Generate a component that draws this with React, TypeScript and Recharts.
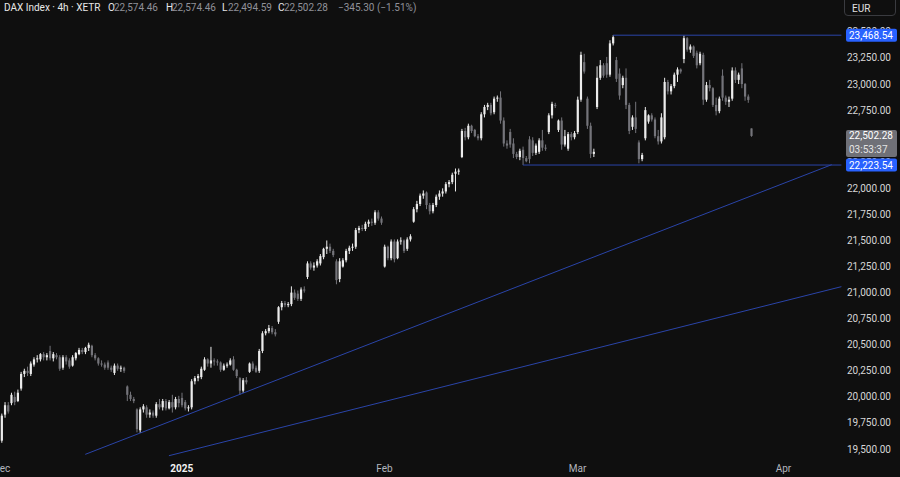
import React from 'react';
import { ComposedChart, Bar, XAxis, YAxis, ReferenceLine } from 'recharts';

type Ohlc = [number, number, number, number];

// 4h candles, [open, high, low, close]
const dec: Ohlc[] = [
  [19580, 19840, 19560, 19820], [19830, 19950, 19800, 19920], [19920, 19950, 19840, 19860], [19940, 20040, 19920, 20020],
  [20000, 20050, 19920, 19950], [19960, 20070, 19950, 20040], [20080, 20240, 20060, 20220], [20220, 20270, 20190, 20250],
  [20250, 20290, 20200, 20230], [20220, 20340, 20200, 20320], [20310, 20380, 20290, 20360], [20360, 20400, 20330, 20370],
  [20360, 20420, 20340, 20410], [20410, 20430, 20350, 20380], [20380, 20420, 20350, 20400], [20440, 20490, 20350, 20370],
  [20370, 20430, 20340, 20410], [20400, 20420, 20360, 20380], [20380, 20400, 20250, 20270], [20280, 20400, 20260, 20380],
  [20380, 20400, 20310, 20340], [20350, 20370, 20270, 20290], [20300, 20400, 20290, 20380], [20370, 20430, 20350, 20420],
  [20410, 20470, 20400, 20450], [20450, 20470, 20410, 20430], [20430, 20480, 20410, 20470], [20470, 20520, 20440, 20500],
  [20490, 20500, 20380, 20400], [20400, 20420, 20350, 20370], [20370, 20380, 20300, 20320], [20320, 20350, 20290, 20310],
  [20310, 20330, 20260, 20280], [20330, 20350, 20260, 20280], [20280, 20300, 20240, 20260], [20230, 20320, 20210, 20300],
  [20300, 20320, 20250, 20270], [20270, 20300, 20240, 20280], [20280, 20290, 20230, 20250], [20100, 20110, 19960, 20020],
  [20020, 20050, 19960, 19980], [19980, 20000, 19940, 19960], [19880, 19890, 19660, 19690], [19680, 19900, 19655, 19880],
  [19880, 19930, 19850, 19910], [19900, 19920, 19800, 19830], [19830, 19880, 19800, 19850], [19850, 19870, 19800, 19820],
  [19820, 19950, 19800, 19930], [19930, 19980, 19880, 19900], [19900, 19980, 19870, 19960], [19960, 19980, 19870, 19890],
  [19890, 19970, 19880, 19950], [19950, 20020, 19850, 19900], [19900, 20000, 19880, 19980], [19980, 20010, 19900, 19940],
];

const jan: Ohlc[] = [
  [19990, 20040, 19900, 19920], [19950, 19970, 19870, 19890], [19890, 19920, 19860, 19900], [19900, 20170, 19880, 20150],
  [20150, 20200, 20120, 20180], [20180, 20220, 20150, 20200], [20190, 20290, 20170, 20270], [20260, 20380, 20250, 20360],
  [20360, 20370, 20290, 20320], [20320, 20480, 20280, 20350], [20350, 20370, 20300, 20340], [20340, 20360, 20300, 20330],
  [20330, 20340, 20240, 20260], [20260, 20320, 20250, 20300], [20300, 20330, 20280, 20310], [20310, 20370, 20300, 20350],
  [20360, 20390, 20250, 20260], [20260, 20270, 20180, 20200], [20180, 20190, 20020, 20060], [20060, 20180, 20040, 20160],
  [20160, 20190, 20120, 20140], [20240, 20330, 20230, 20320], [20320, 20340, 20250, 20270], [20280, 20300, 20230, 20240],
  [20250, 20460, 20230, 20440], [20440, 20630, 20420, 20610], [20610, 20650, 20590, 20630], [20630, 20690, 20610, 20660],
  [20660, 20680, 20600, 20620], [20620, 20650, 20580, 20600], [20720, 20870, 20700, 20860], [20860, 20920, 20830, 20900],
  [20900, 20920, 20860, 20880], [20880, 20910, 20860, 20890], [20890, 21060, 20870, 21000], [21000, 21030, 20930, 20950],
  [20990, 21020, 20920, 20940], [20940, 21050, 20920, 21030], [21030, 21060, 21000, 21020], [21150, 21300, 21130, 21280],
  [21280, 21300, 21220, 21240], [21240, 21290, 21210, 21260], [21260, 21320, 21240, 21300], [21280, 21370, 21260, 21350],
  [21340, 21430, 21320, 21420], [21420, 21500, 21370, 21440], [21440, 21470, 21380, 21400], [21400, 21420, 21340, 21360],
  [21300, 21320, 21080, 21120], [21130, 21330, 21100, 21300], [21250, 21330, 21240, 21310], [21310, 21420, 21290, 21400],
  [21400, 21450, 21370, 21430], [21430, 21470, 21400, 21440], [21440, 21620, 21420, 21600], [21600, 21640, 21570, 21620],
  [21620, 21650, 21590, 21610], [21610, 21680, 21590, 21660], [21660, 21700, 21630, 21680], [21680, 21710, 21640, 21670],
  [21670, 21790, 21650, 21770], [21770, 21790, 21690, 21710], [21710, 21730, 21650, 21670],
];

const feb: Ohlc[] = [
  [21250, 21460, 21240, 21440], [21440, 21450, 21310, 21330], [21330, 21510, 21310, 21490], [21490, 21510, 21290, 21320],
  [21330, 21510, 21320, 21490], [21490, 21530, 21460, 21500], [21500, 21510, 21380, 21400], [21420, 21530, 21400, 21510],
  [21510, 21560, 21490, 21540], [21680, 21820, 21670, 21800], [21800, 21880, 21770, 21850], [21850, 21950, 21830, 21930],
  [21930, 21980, 21900, 21950], [21960, 21970, 21800, 21840], [21840, 21860, 21750, 21780], [21780, 21860, 21760, 21840],
  [21840, 21940, 21820, 21920], [21920, 21980, 21890, 21950], [21950, 22000, 21920, 21970], [21970, 22060, 21950, 22040],
  [22040, 22080, 22010, 22060], [22060, 22150, 22040, 22130], [22140, 22190, 21970, 22160], [22160, 22190, 22130, 22170],
  [22300, 22570, 22290, 22550], [22550, 22580, 22460, 22490], [22490, 22620, 22470, 22600], [22600, 22610, 22530, 22550],
  [22560, 22570, 22490, 22500], [22500, 22520, 22460, 22480], [22480, 22730, 22460, 22710], [22710, 22800, 22680, 22780],
  [22780, 22820, 22750, 22800], [22800, 22820, 22700, 22720], [22730, 22880, 22710, 22860], [22860, 22890, 22830, 22870],
  [22870, 22930, 22620, 22650], [22650, 22680, 22400, 22430], [22430, 22460, 22380, 22410], [22540, 22570, 22390, 22420],
  [22430, 22480, 22290, 22330], [22330, 22350, 22280, 22300], [22300, 22380, 22270, 22360], [22370, 22400, 22223.54, 22290],
  [22290, 22310, 22250, 22260], [22470, 22500, 22240, 22280], [22460, 22490, 22310, 22340], [22340, 22430, 22320, 22410],
  [22350, 22480, 22330, 22460], [22460, 22560, 22360, 22390], [22390, 22420, 22360, 22380], [22540, 22720, 22520, 22700],
  [22700, 22830, 22670, 22810], [22800, 22820, 22770, 22790], [22560, 22660, 22540, 22650], [22650, 22680, 22370, 22420],
  [22420, 22560, 22400, 22500], [22380, 22540, 22360, 22520], [22520, 22540, 22460, 22490], [22490, 22550, 22470, 22530],
];

const mar: Ohlc[] = [
  [22540, 22880, 22520, 22850], [22850, 23310, 22830, 23280], [23210, 23290, 23100, 23120], [22860, 22880, 22570, 22600],
  [22600, 22630, 22290, 22330], [22330, 22380, 22300, 22350], [22780, 23170, 22760, 23060], [23060, 23230, 23040, 23180],
  [23180, 23200, 23060, 23080], [23200, 23260, 23060, 23090], [23090, 23420, 23070, 23390], [23390, 23468.54, 23370, 23450],
  [23230, 23260, 23020, 23050], [23100, 23150, 22850, 22890], [22990, 23080, 22960, 23060], [23060, 23150, 22760, 22800],
  [22800, 22820, 22520, 22550], [22590, 22700, 22560, 22680], [22680, 22830, 22530, 22570], [22440, 22460, 22240, 22280],
  [22280, 22340, 22260, 22320], [22480, 22780, 22460, 22750], [22640, 22710, 22620, 22700], [22700, 22720, 22640, 22660],
  [22660, 22680, 22480, 22500], [22500, 22560, 22420, 22450], [22450, 22720, 22430, 22680], [22490, 23060, 22470, 23020],
  [23020, 23040, 22900, 22930], [22930, 23000, 22900, 22980], [22980, 23110, 22960, 23090], [23090, 23160, 23020, 23140],
  [23140, 23150, 23100, 23120], [23240, 23465, 23200, 23440], [23440, 23450, 23310, 23330], [23330, 23380, 23300, 23360],
  [23360, 23370, 23250, 23270], [23300, 23320, 23150, 23180], [23200, 23310, 23180, 23290], [23280, 23300, 22800, 22850],
  [22850, 23020, 22830, 22990], [22990, 23040, 22930, 22960], [22960, 22970, 22780, 22800], [22800, 22870, 22700, 22740],
  [22740, 22880, 22720, 22860], [23080, 23140, 22840, 22870], [22870, 22890, 22800, 22830], [22830, 22880, 22780, 22850],
  [22860, 23160, 22840, 23130], [23130, 23160, 23010, 23040], [23040, 23110, 23000, 23090], [23150, 23200, 22960, 23000],
  [23000, 23010, 22840, 22880], [22880, 22900, 22820, 22847.58], [22574.46, 22574.46, 22494.59, 22502.28],
];

const futureSlots = 28;
const monthTicks = [0, 56, 119, 179, 243];
const monthLabels = ['Dec', '2025', 'Feb', 'Mar', 'Apr'];
const priceTicks = [19500, 19750, 20000, 20250, 20500, 20750, 21000, 21250, 21500, 21750, 22000, 22250, 22500, 22750, 23000, 23250, 23500];
const rangeHigh = 23468.54;
const rangeLow = 22223.54;
const lastPrice = 22502.28;
const countdown = '03:53:37';
// trend lines: [candle index, price]
const upperTrend = [{ x: 26, y: 19449 }, { x: 258, y: 22227 }];
const lowerTrend = [{ x: 52, y: 19436 }, { x: 261, y: 21057 }];
const highStart = 190;
const lowStart = 162;
const lineEnd = 261;

const headerTitle = 'DAX Index · 4h · XETR';
const ohlcLetters = ['O', 'H', 'L', 'C'];
const ohlcValues = ['22,574.46', '22,574.46', '22,494.59', '22,502.28'];
const changeText = '−345.30 (−1.51%)';

const BG = '#0f0f0f';
const UP = '#ececec';
const DOWN = '#74747a';
const LINE = '#2a44a8';
const TAG_BLUE = '#2962ff';
const TAG_GRAY = '#6f7077';
const FONT = 'Roboto, "Liberation Sans", sans-serif';

const candles = [...dec, ...jan, ...feb, ...mar].map(([o, h, l, c], i) => ({ i, o, h, l, c }));
const data: any[] = [...candles];
for (let k = 0; k < futureSlots; k++) data.push({ i: candles.length + k });

// price-axis tags go last so they paint over the regular labels
const tagPrices = [lastPrice, rangeHigh, rangeLow];
const axisTicks = [...priceTicks, ...tagPrices];

const fmt = (v: number) => v.toLocaleString('en-US', { minimumFractionDigits: 2, maximumFractionDigits: 2 });

function Candle(props: any) {
  const { x, y, width, height, payload } = props;
  if (!payload || payload.o == null || !isFinite(y) || !isFinite(height)) return null;
  const top = Math.min(y, y + height);
  const bottom = Math.max(y, y + height);
  const span = payload.h - payload.l;
  const ppu = span > 0 ? (bottom - top) / span : 0;
  const py = (v: number) => top + (payload.h - v) * ppu;
  const color = payload.c >= payload.o ? UP : DOWN;
  const cx = x + width / 2;
  const bTop = py(Math.max(payload.o, payload.c));
  const bBot = py(Math.min(payload.o, payload.c));
  return (
    <g>
      <line x1={cx} x2={cx} y1={top} y2={bottom} stroke={color} strokeWidth={1} />
      <rect x={cx - 1.1} y={bTop} width={2.2} height={Math.max(1, bBot - bTop)} fill={color} />
    </g>
  );
}

function MonthTick({ x, y, payload }: any) {
  const label = monthLabels[monthTicks.indexOf(payload.value)];
  const isYear = label === '2025';
  return (
    <text x={x} y={y + 13.5} textAnchor="middle" fontSize={10} fontFamily={FONT}
      fill={isYear ? '#f2f2f2' : '#b2b5be'} fontWeight={isYear ? 700 : 400}>
      {label}
    </text>
  );
}

function PriceTick({ x, y, payload }: any) {
  const v = payload.value;
  const tx = x - 1;
  if (v === lastPrice) {
    return (
      <g>
        <rect x={tx} y={y - 6} width={51} height={27} rx={2} fill={TAG_GRAY} />
        <text x={tx + 3} y={y + 3.5} fontSize={10} fontFamily={FONT} fill="#ffffff">{fmt(v)}</text>
        <text x={tx + 3} y={y + 17} fontSize={10} fontFamily={FONT} fill="#e4e4e4">{countdown}</text>
      </g>
    );
  }
  if (v === rangeHigh || v === rangeLow) {
    return (
      <g>
        <rect x={tx} y={y - 6.5} width={51} height={13} rx={2} fill={TAG_BLUE} />
        <text x={tx + 3} y={y + 3.5} fontSize={10} fontFamily={FONT} fill="#ffffff">{fmt(v)}</text>
      </g>
    );
  }
  return (
    <text x={x} y={y + 3.5} textAnchor="start" fontSize={10} fontFamily={FONT} fill="#d6d6d6">
      {fmt(v)}
    </text>
  );
}

export default function App() {
  const valueLeft = [114, 172, 228, 284];
  const letterLeft = [108, 166, 222, 278];
  return (
    <div style={{ position: 'absolute', left: 0, top: 0, width: 900, height: 477, background: BG, overflow: 'hidden' }}>
      <ComposedChart width={900} height={477} data={data} margin={{ top: 0, right: 0, left: 0, bottom: 0 }}>
        <XAxis dataKey="i" type="category" ticks={monthTicks} interval={0} tick={<MonthTick />}
          axisLine={false} tickLine={false} tickSize={0} tickMargin={0} height={19} />
        <YAxis orientation="right" width={57} domain={[19414, 23806]} allowDataOverflow ticks={axisTicks}
          interval={0} tick={<PriceTick />} axisLine={false} tickLine={false} tickSize={0} tickMargin={4} />
        <Bar dataKey={(d: any) => (d.o == null ? null : [d.l, d.h])} shape={<Candle />} isAnimationActive={false} />
        <ReferenceLine segment={upperTrend} stroke={LINE} strokeWidth={1} />
        <ReferenceLine segment={lowerTrend} stroke={LINE} strokeWidth={1} />
        <ReferenceLine segment={[{ x: highStart, y: rangeHigh }, { x: lineEnd, y: rangeHigh }]} stroke={LINE} strokeWidth={1} />
        <ReferenceLine segment={[{ x: lowStart, y: rangeLow }, { x: lineEnd, y: rangeLow }]} stroke={LINE} strokeWidth={1} />
      </ComposedChart>
      <div style={{ position: 'absolute', left: 0, top: 2, width: 900, height: 14, fontFamily: FONT, fontSize: 10, lineHeight: '12px' }}>
        <span style={{ position: 'absolute', left: 4, color: '#e8e8e8' }}>{headerTitle}</span>
        {ohlcLetters.map((l, k) => (
          <React.Fragment key={l}>
            <span style={{ position: 'absolute', left: letterLeft[k], color: '#e8e8e8' }}>{l}</span>
            <span style={{ position: 'absolute', left: valueLeft[k], color: '#8f9199' }}>{ohlcValues[k]}</span>
          </React.Fragment>
        ))}
        <span style={{ position: 'absolute', left: 338, color: '#8f9199' }}>{changeText}</span>
      </div>
      <div style={{ position: 'absolute', left: 844, top: -4, width: 52, height: 20, border: '1px solid #3a3b40',
        borderRadius: 4, boxSizing: 'border-box', fontFamily: FONT, fontSize: 10, color: '#e0e0e0', paddingLeft: 7, paddingTop: 6 }}>
        EUR
      </div>
    </div>
  );
}
